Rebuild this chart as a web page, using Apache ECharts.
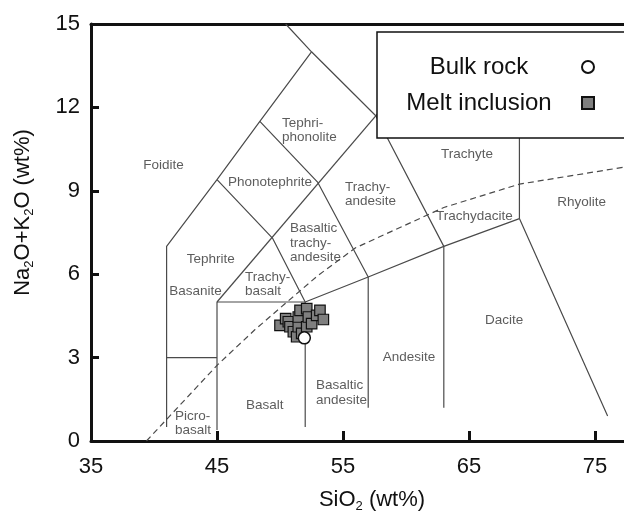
<!DOCTYPE html>
<html><head><meta charset="utf-8">
<script src="https://cdn.jsdelivr.net/npm/echarts@6/dist/echarts.min.js"></script>
<style>html,body{margin:0;padding:0;background:#fff}#c{width:624px;height:518px}</style>
</head><body><div id="c"></div>
<script>
// ---- axis ticks ----
const xTicks = [35, 45, 55, 65, 75];
const yTicks = [0, 3, 6, 9, 12, 15];
const xMax = 77.3;

// ---- data (SiO2, Na2O+K2O) ----
const bulkRock = [[51.93, 3.71]];
const meltInclusion = [
  [50.0, 4.16], [50.45, 4.40], [50.66, 4.29], [50.79, 4.11], [51.06, 3.93],
  [51.32, 3.75], [51.45, 4.11], [51.45, 4.46], [51.59, 4.70], [51.72, 3.87],
  [52.12, 4.76], [52.12, 4.11], [52.25, 4.46], [52.51, 4.22], [52.91, 4.52],
  [53.17, 4.70], [53.44, 4.37]
];

// ---- TAS field boundaries ----
const boundaryFoidite = [[41, 0.5], [41, 7], [45, 9.4], [48.4, 11.5], [52.5, 14], [50.45, 15]];
const boundaryPicro = [[41, 3], [45, 3]];
const boundaryBasalt = [[45, 0.4], [45, 5], [52, 5], [52, 0.5]];
const boundaryDiag = [[45, 5], [61, 13.5]];
const boundaryTephrite = [[45, 9.4], [49.4, 7.3], [52, 5]];
const boundaryBTA = [[48.4, 11.5], [53, 9.3], [57, 5.9], [57, 1.2]];
const boundaryTA = [[52.5, 14], [57.6, 11.7], [63, 7], [63, 1.2]];
const boundaryLower = [[52, 5], [57, 5.9], [63, 7], [69, 8], [76, 0.9]];
const boundaryRhyolite = [[69, 8], [69, 12]];
const alkalineLine = [[39.4, 0], [45, 2.72], [48, 4.0], [50.3, 4.9], [53, 5.95], [56, 6.95], [63, 8.4], [69, 9.24], [77.3, 9.85]];

// ---- field names (left edge x, centre y) ----
const fieldLabels = [
  ['Foidite', 39.15, 9.92],
  ['Tephri-\nphonolite', 50.16, 11.17],
  ['Phonotephrite', 45.87, 9.32],
  ['Trachy-\nandesite', 55.16, 8.88],
  ['Trachyte', 62.78, 10.31],
  ['Trachydacite', 62.38, 8.10],
  ['Rhyolite', 72.0, 8.58],
  ['Basaltic\ntrachy-\nandesite', 50.79, 7.12],
  ['Tephrite', 42.59, 6.53],
  ['Basanite', 41.21, 5.40],
  ['Trachy-\nbasalt', 47.22, 5.63],
  ['Picro-\nbasalt', 41.67, 0.64],
  ['Basalt', 47.30, 1.30],
  ['Basaltic\nandesite', 52.86, 1.74],
  ['Andesite', 58.15, 3.0],
  ['Dacite', 66.27, 4.34]
];

const FONT = 'Liberation Sans, Arial, sans-serif';
const lineColor = '#4a4a4a';

function boundary(name, data, dashed) {
  return {
    name: name, type: 'line', data: data, symbol: 'none', silent: true,
    lineStyle: { color: lineColor, width: 1.2, type: dashed ? [6, 4] : 'solid' },
    z: 2, animation: false
  };
}

const chart = echarts.init(document.getElementById('c'), null, { renderer: 'canvas' });
chart.setOption({
  animation: false,
  backgroundColor: '#fff',
  grid: { left: 91, right: 0, top: 24, bottom: 75 },
  xAxis: [{
    type: 'value', min: xTicks[0], max: xMax, interval: xTicks[1] - xTicks[0],
    name: 'SiO{s|2} (wt%)', nameLocation: 'middle', nameGap: 46,
    nameTextStyle: {
      fontFamily: FONT, fontSize: 22, color: '#111', lineHeight: 26, padding: [0, 0, 0, 29],
      rich: { s: { fontFamily: FONT, fontSize: 13, lineHeight: 13, verticalAlign: 'bottom', color: '#111' } }
    },
    axisLine: { lineStyle: { color: '#111', width: 3 } },
    axisTick: { inside: true, length: 10, lineStyle: { color: '#111', width: 3 } },
    axisLabel: { fontFamily: FONT, fontSize: 22, color: '#111', margin: 15, showMaxLabel: false },
    splitLine: { show: false }
  }, {
    type: 'value', position: 'top', min: xTicks[0], max: xMax,
    axisLine: { show: true, onZero: false, lineStyle: { color: '#111', width: 3 } },
    axisTick: { show: false }, axisLabel: { show: false }, splitLine: { show: false }
  }],
  yAxis: {
    type: 'value', min: yTicks[0], max: yTicks[yTicks.length - 1], interval: yTicks[1] - yTicks[0],
    name: 'Na{s|2}O+K{s|2}O (wt%)', nameLocation: 'middle', nameGap: 55,
    nameTextStyle: {
      fontFamily: FONT, fontSize: 22, color: '#111', lineHeight: 26, padding: [0, 0, 0, 40],
      rich: { s: { fontFamily: FONT, fontSize: 13, lineHeight: 13, verticalAlign: 'bottom', color: '#111' } }
    },
    axisLine: { lineStyle: { color: '#111', width: 3 } },
    axisTick: { inside: true, length: 8, lineStyle: { color: '#111', width: 3 } },
    axisLabel: { fontFamily: FONT, fontSize: 22, color: '#111', margin: 11 },
    splitLine: { show: false }
  },
  legend: {
    orient: 'vertical', left: 381, top: 55, padding: 0, itemGap: 12, align: 'right',
    itemWidth: 12, itemHeight: 12, z: 60,
    data: ['Bulk rock', 'Melt inclusion'],
    formatter: function (n) { return '{t|' + n + '}'; },
    textStyle: {
      fontFamily: FONT, fontSize: 24, color: '#111',
      rich: { t: { width: 196, align: 'center', fontFamily: FONT, fontSize: 24, lineHeight: 24, color: '#111' } }
    }
  },
  graphic: [{
    type: 'rect', z: 50, silent: true,
    shape: { x: 377, y: 32, width: 260, height: 106 },
    style: { fill: '#fff', stroke: '#111', lineWidth: 1.5 }
  }],
  series: [
    boundary('b1', boundaryFoidite),
    boundary('b2', boundaryPicro),
    boundary('b3', boundaryBasalt),
    boundary('b4', boundaryDiag),
    boundary('b5', boundaryTephrite),
    boundary('b6', boundaryBTA),
    boundary('b7', boundaryTA),
    boundary('b8', boundaryLower),
    boundary('b9', boundaryRhyolite),
    boundary('alk', alkalineLine, true),
    {
      name: 'fields', type: 'scatter', silent: true, symbolSize: 0, z: 3,
      data: fieldLabels.map(function (d) { return { name: d[0], value: [d[1], d[2]] }; }),
      label: {
        show: true, position: 'inside', formatter: '{b}', align: 'left', verticalAlign: 'middle',
        fontFamily: FONT, fontSize: 13.5, lineHeight: 14.5, color: '#333'
      }
    },
    {
      name: 'Melt inclusion', type: 'scatter', symbol: 'rect', symbolSize: 10.5, z: 5,
      data: meltInclusion,
      itemStyle: { color: '#7f7f7f', borderColor: '#111', borderWidth: 1.2, opacity: 1 }
    },
    {
      name: 'Bulk rock', type: 'scatter', symbol: 'circle', symbolSize: 12, z: 6,
      data: bulkRock,
      itemStyle: { color: '#fff', borderColor: '#111', borderWidth: 1.5, opacity: 1 }
    }
  ]
});
</script>
</body></html>
